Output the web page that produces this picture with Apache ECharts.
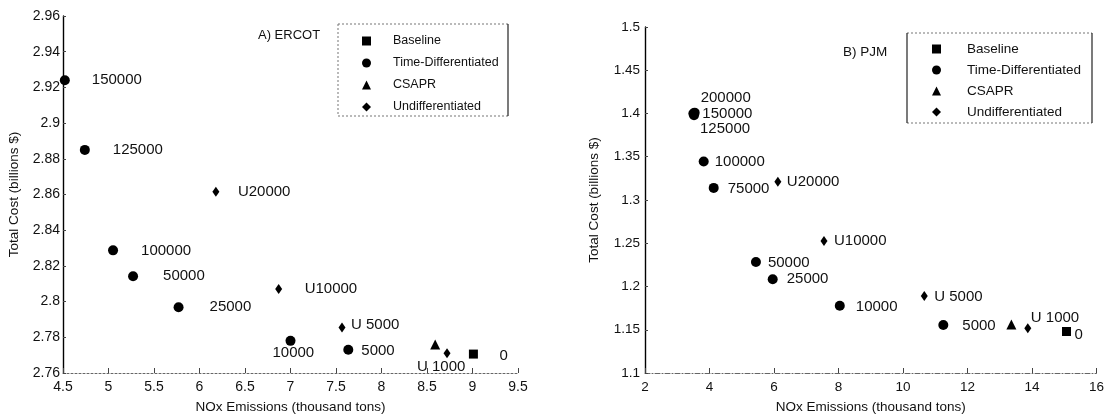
<!DOCTYPE html>
<html>
<head>
<meta charset="utf-8">
<script src="https://cdn.jsdelivr.net/npm/echarts@6/dist/echarts.min.js"></script>
<style>
html,body{margin:0;padding:0;background:#fff;}
#chart{width:1107px;height:419px;}
</style>
</head>
<body>
<div id="chart"></div>
<script>
// ---------- DATA ----------
// [NOx emissions (thousand tons), total cost (billions $), label]
const ercotBaseline = [[9.01, 2.7706, '0']];
const ercotTimeDiff = [[4.52, 2.924, '150000'], [4.74, 2.885, '125000'], [5.05, 2.8287, '100000'],
  [5.27, 2.8142, '50000'], [5.77, 2.7968, '25000'], [7.00, 2.778, '10000'], [7.635, 2.773, '5000']];
const ercotCSAPR = [[8.59, 2.776, '']];
const ercotUndiff = [[6.18, 2.8616, 'U20000'], [6.87, 2.807, 'U10000'], [7.566, 2.7855, 'U 5000'], [8.72, 2.771, 'U 1000']];

const pjmBaseline = [[15.07, 1.148, '0']];
const pjmTimeDiff = [[3.54, 1.401, '200000'], [3.50, 1.400, '150000'], [3.52, 1.398, '125000'],
  [3.82, 1.3445, '100000'], [4.13, 1.314, '75000'], [5.44, 1.2284, '50000'], [5.96, 1.2084, '25000'],
  [8.04, 1.1778, '10000'], [11.25, 1.1555, '5000']];
const pjmCSAPR = [[13.36, 1.156, '']];
const pjmUndiff = [[6.12, 1.321, 'U20000'], [7.55, 1.2525, 'U10000'], [10.66, 1.1889, 'U 5000'], [13.87, 1.1517, 'U 1000']];

const ercotXTicks = [4.5, 5, 5.5, 6, 6.5, 7, 7.5, 8, 8.5, 9, 9.5];
const ercotYTicks = [2.76, 2.78, 2.8, 2.82, 2.84, 2.86, 2.88, 2.9, 2.92, 2.94, 2.96];
const pjmXTicks = [2, 4, 6, 8, 10, 12, 14, 16];
const pjmYTicks = [1.1, 1.15, 1.2, 1.25, 1.3, 1.35, 1.4, 1.45, 1.5];

const seriesNames = ['Baseline', 'Time-Differentiated', 'CSAPR', 'Undifferentiated'];
const panelTitles = ['A) ERCOT', 'B) PJM'];
const xName = 'NOx Emissions (thousand tons)';
const yName = 'Total Cost (billions $)';

// ---------- STYLE (label placement: offset of label's left edge / middle from point centre) ----------
const labelPlace = {
  A: { '150000': [27, 0], '125000': [28, 0], '100000': [28, 0], '50000': [30, 0], '25000': [31, 0],
       '10000': [-18, 12], '5000': [13, 1], 'U20000': [22, 0], 'U10000': [26, 0], 'U 5000': [9, -3],
       'U 1000': [-30, 13], '0': [26, 2] },
  B: { '200000': [6, -15], '150000': [9, 0], '125000': [6, 14], '100000': [11, 0], '75000': [14, 1],
       '50000': [12, 1], '25000': [14, 0], '10000': [16, 1], '5000': [19, 1], 'U20000': [9, 0],
       'U10000': [10, 0], 'U 5000': [10, 1], 'U 1000': [3, -10], '0': [8, 3] }
};
const FONT = '"Liberation Sans", Arial, Helvetica, sans-serif';
const INK = '#111';

function items(arr, panel, fs) {
  return arr.map(d => {
    const o = { value: [d[0], d[1]], name: d[2] };
    if (d[2]) {
      const p = labelPlace[panel][d[2]] || [10, 0];
      o.label = { show: true, formatter: d[2], position: 'inside', align: 'left', verticalAlign: 'middle',
        offset: p, color: INK, fontSize: fs, fontFamily: FONT };
    }
    return o;
  });
}

function fmt(v) { return String(parseFloat(v.toFixed(3))); }

function xAxisCfg(ticks, gi, fs) {
  return {
    type: 'value', gridIndex: gi, min: ticks[0], max: ticks[ticks.length - 1], interval: ticks[1] - ticks[0],
    name: xName, nameLocation: 'middle', nameGap: 27,
    nameTextStyle: { fontSize: 13.5, color: INK, fontFamily: FONT },
    axisLine: { show: true, lineStyle: { color: '#666', width: 1, type: gi === 0 ? [2, 2] : [5, 2, 1, 2] } },
    axisTick: { show: true, inside: true, length: 5, lineStyle: { color: '#444' } },
    axisLabel: { fontSize: fs, color: INK, margin: 7, formatter: fmt, fontFamily: FONT },
    splitLine: { show: false }
  };
}
function yAxisCfg(ticks, gi, fs, gap, margin) {
  return {
    type: 'value', gridIndex: gi, min: ticks[0], max: ticks[ticks.length - 1], interval: +(ticks[1] - ticks[0]).toFixed(4),
    name: yName, nameLocation: 'middle', nameGap: gap,
    nameTextStyle: { fontSize: 13.5, color: INK, fontFamily: FONT },
    axisLine: { show: true, lineStyle: { color: '#000', width: 1.4 } },
    axisTick: { show: true, inside: true, length: 3, lineStyle: { color: '#444' } },
    axisLabel: { fontSize: fs, color: INK, margin: margin, formatter: fmt, fontFamily: FONT },
    splitLine: { show: false }
  };
}

const symbols = {
  'Baseline': { symbol: 'rect', size: 9 },
  'Time-Differentiated': { symbol: 'circle', size: 10 },
  'CSAPR': { symbol: 'triangle', size: 10 },
  'Undifferentiated': { symbol: 'diamond', size: [7, 10] }
};

function mkSeries(name, arr, gi, panel, fs, sizeOverride) {
  return {
    type: 'scatter', name: name, xAxisIndex: gi, yAxisIndex: gi,
    symbol: symbols[name].symbol, symbolSize: sizeOverride || symbols[name].size,
    itemStyle: { color: '#000', opacity: 1 },
    label: { show: false },
    emphasis: { disabled: true },
    data: items(arr, panel, fs), z: 3
  };
}

const chart = echarts.init(document.getElementById('chart'), null, { renderer: 'canvas' });

const dotted = { stroke: '#777', lineWidth: 1, lineDash: [2, 2] };
const solid = { stroke: '#222', lineWidth: 1.2 };
function line(x1, y1, x2, y2, style) {
  return { type: 'line', shape: { x1, y1, x2, y2 }, style: Object.assign({}, style), silent: true };
}

const option = {
  animation: false,
  backgroundColor: '#fff',
  textStyle: { fontFamily: FONT },
  grid: [
    { left: 63, top: 16, width: 455, height: 359 },
    { left: 645, top: 27, width: 454, height: 348 }
  ],
  title: [
    { text: panelTitles[0], left: 258, top: 29, padding: 0, textStyle: { fontSize: 13, fontWeight: 'normal', color: INK, fontFamily: FONT } },
    { text: panelTitles[1], left: 843, top: 45, padding: 0, textStyle: { fontSize: 13.5, fontWeight: 'normal', color: INK, fontFamily: FONT } }
  ],
  legend: [
    { data: seriesNames, orient: 'vertical', left: 362, top: 34, padding: 0, itemWidth: 9, itemHeight: 9, itemGap: 8,
      selectedMode: false, textStyle: { fontSize: 12.5, color: INK, lineHeight: 14, fontFamily: FONT, padding: [0, 0, 0, 17] } },
    { data: seriesNames, orient: 'vertical', left: 932, top: 42, padding: 0, itemWidth: 9, itemHeight: 9, itemGap: 7,
      selectedMode: false, textStyle: { fontSize: 13.5, color: INK, lineHeight: 14, fontFamily: FONT, padding: [0, 0, 0, 21] } }
  ],
  xAxis: [xAxisCfg(ercotXTicks, 0, 14), xAxisCfg(pjmXTicks, 1, 13.5)],
  yAxis: [yAxisCfg(ercotYTicks, 0, 14, 42, 3), yAxisCfg(pjmYTicks, 1, 13.5, 44, 5)],
  series: [
    mkSeries('Baseline', ercotBaseline, 0, 'A', 15),
    mkSeries('Time-Differentiated', ercotTimeDiff, 0, 'A', 15),
    mkSeries('CSAPR', ercotCSAPR, 0, 'A', 15),
    mkSeries('Undifferentiated', ercotUndiff, 0, 'A', 15),
    mkSeries('Baseline', pjmBaseline, 1, 'B', 15),
    mkSeries('Time-Differentiated', pjmTimeDiff, 1, 'B', 15),
    mkSeries('CSAPR', pjmCSAPR, 1, 'B', 15),
    mkSeries('Undifferentiated', pjmUndiff, 1, 'B', 15)
  ],
  graphic: [
    // legend box A
    line(338, 24, 508, 24, dotted), line(338, 116, 508, 116, dotted),
    line(338, 24, 338, 116, dotted), line(508, 24, 508, 116, solid),
    // legend box B
    line(907, 33, 1092, 33, dotted), line(907, 123, 1092, 123, dotted),
    line(907, 33, 907, 123, solid), line(1092, 33, 1092, 123, solid)
  ]
};
chart.setOption(option);
</script>
</body>
</html>
